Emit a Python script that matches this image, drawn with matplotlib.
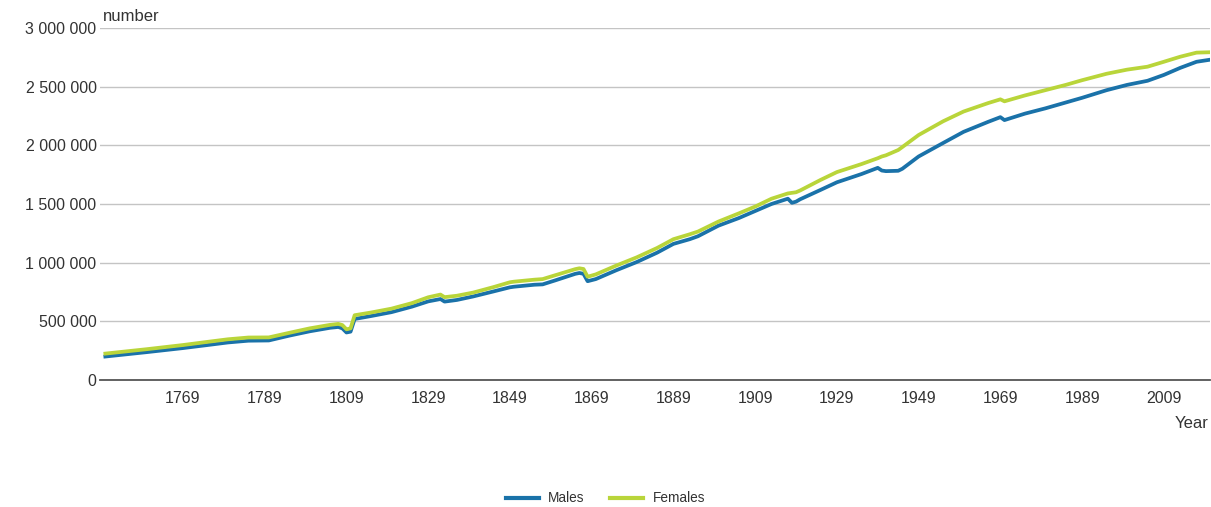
import matplotlib
matplotlib.use("Agg")
import matplotlib.pyplot as plt
from matplotlib.ticker import FuncFormatter, FixedLocator

years = [1750, 1760, 1769, 1775, 1780, 1785, 1790, 1795, 1800, 1805, 1807, 1808,
         1809, 1810, 1811, 1815, 1820, 1825, 1829, 1832, 1833, 1836, 1840, 1845,
         1849, 1850, 1855, 1857, 1860, 1865, 1866, 1867, 1868, 1870, 1875, 1880,
         1885, 1889, 1893, 1895, 1900, 1905, 1909, 1913, 1917, 1918, 1919, 1920,
         1925, 1929, 1935, 1939, 1940, 1941, 1944, 1945, 1949, 1955, 1960, 1966,
         1969, 1970, 1975, 1980, 1985, 1989, 1995, 2000, 2005, 2009, 2013, 2017, 2020]

males = [200000, 237000, 272000, 298000, 320000, 335000, 337000, 378000, 415000, 445000, 452000, 440000,
         405000, 412000, 520000, 545000, 578000, 625000, 670000, 690000, 668000, 682000, 712000, 755000,
         790000, 795000, 812000, 815000, 848000, 905000, 912000, 905000, 842000, 860000, 935000, 1005000,
         1085000, 1160000, 1200000, 1225000, 1315000, 1380000, 1440000, 1500000, 1545000, 1510000, 1520000, 1540000,
         1620000, 1685000, 1755000, 1808000, 1785000, 1780000, 1783000, 1800000, 1905000, 2020000, 2115000, 2200000,
         2240000, 2215000, 2270000, 2315000, 2365000, 2405000, 2470000, 2515000, 2550000, 2600000, 2660000, 2712000, 2728000]

females = [225000, 262000, 298000, 325000, 347000, 362000, 363000, 402000, 440000, 470000, 478000, 468000,
           432000, 440000, 552000, 575000, 608000, 655000, 705000, 728000, 706000, 718000, 745000, 792000,
           833000, 838000, 855000, 860000, 892000, 945000, 952000, 946000, 880000, 900000, 975000, 1045000,
           1125000, 1200000, 1242000, 1265000, 1350000, 1420000, 1478000, 1545000, 1590000, 1595000, 1600000, 1615000,
           1705000, 1772000, 1840000, 1890000, 1905000, 1915000, 1960000, 1985000, 2088000, 2205000, 2288000, 2360000,
           2392000, 2375000, 2425000, 2470000, 2515000, 2555000, 2610000, 2645000, 2670000, 2712000, 2755000, 2790000, 2793000]

x_tick_years = [1769, 1789, 1809, 1829, 1849, 1869, 1889, 1909, 1929, 1949, 1969, 1989, 2009]
y_ticks = [0, 500000, 1000000, 1500000, 2000000, 2500000, 3000000]

plt.rcParams['font.family'] = ['Liberation Sans', 'DejaVu Sans']

fig = plt.figure(figsize=(12.11, 5.07), dpi=100)
ax = fig.add_axes([0.0826, 0.2505, 0.9166, 0.6943])

male_color = '#1a72a9'
female_color = '#b9d53a'

ax.plot(years, males, color=male_color, lw=2.7, label='Males', solid_joinstyle='round', zorder=3)
ax.plot(years, females, color=female_color, lw=2.7, label='Females', solid_joinstyle='round', zorder=3)

ax.set_xlim(1748.7, 2020.3)
ax.set_ylim(0, 3000000)
ax.yaxis.set_major_locator(FixedLocator(y_ticks))
ax.xaxis.set_major_locator(FixedLocator(x_tick_years))
ax.yaxis.set_major_formatter(FuncFormatter(lambda v, p: f"{int(v):,}".replace(",", " ")))

ax.grid(axis='y', color='#c4c4c4', lw=1.0)
ax.set_axisbelow(True)
for s in ['top', 'right', 'left']:
    ax.spines[s].set_visible(False)
ax.spines['bottom'].set_color('#555555')
ax.spines['bottom'].set_linewidth(1.3)
ax.spines['bottom'].set_zorder(4)

ax.tick_params(axis='both', length=0, labelsize=11.5, colors='#333333')
ax.tick_params(axis='x', pad=8)
ax.tick_params(axis='y', pad=2.5)

fig.text(0.0850, 0.968, 'number', fontsize=12, color='#333333', ha='left', va='center')
fig.text(0.998, 0.165, 'Year', fontsize=12, color='#333333', ha='right', va='center')

leg = fig.legend(loc='center', bbox_to_anchor=(0.500, 0.017), ncol=2, frameon=False,
                 fontsize=9.8, handlelength=2.4, columnspacing=1.9, handletextpad=0.7)
for line in leg.get_lines():
    line.set_linewidth(3)
for t in leg.get_texts():
    t.set_color('#333333')

fig.savefig('out.png', dpi=100)
